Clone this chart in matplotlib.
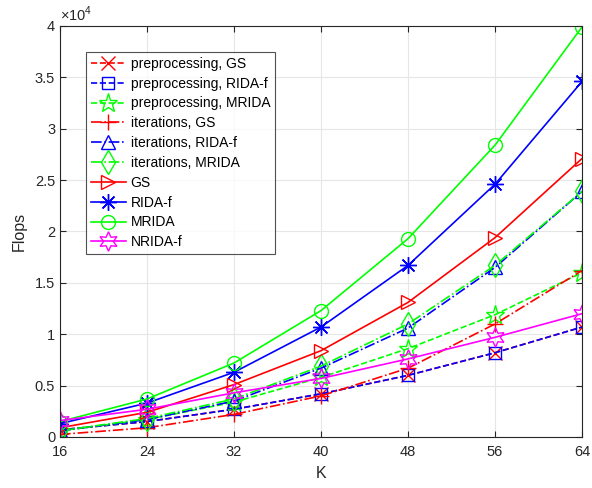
import matplotlib
matplotlib.use("Agg")
import matplotlib.pyplot as plt
from matplotlib.ticker import FuncFormatter

plt.rcParams['font.family'] = ['Liberation Sans', 'DejaVu Sans']
plt.rcParams['mathtext.fontset'] = 'custom'
plt.rcParams['mathtext.rm'] = 'Liberation Sans'

K = [16, 24, 32, 40, 48, 56, 64]

pre_GS = [700, 1500, 2700, 4200, 6000, 8200, 10700]
pre_RIDA = [700, 1500, 2700, 4200, 6000, 8200, 10700]
pre_MRIDA = [600, 1700, 3400, 5800, 8600, 11900, 16000]
it_GS = [250, 900, 2200, 4000, 6700, 11000, 16200]
it_RIDA = [600, 1700, 3500, 6700, 10600, 16500, 23900]
it_MRIDA = [600, 1800, 3700, 6900, 11000, 16700, 23900]
GS = [900, 2400, 5100, 8400, 13100, 19400, 27100]
RIDA_f = [1300, 3300, 6300, 10700, 16700, 24600, 34600]
MRIDA = [1500, 3700, 7200, 12300, 19300, 28400, 39900]
NRIDA_f = [1600, 2700, 4300, 5700, 7600, 9700, 12000]

labels = ['preprocessing, GS', 'preprocessing, RIDA-f', 'preprocessing, MRIDA',
          'iterations, GS', 'iterations, RIDA-f', 'iterations, MRIDA',
          'GS', 'RIDA-f', 'MRIDA', 'NRIDA-f']

fig = plt.figure(figsize=(5.92, 4.88), dpi=100)
ax = fig.add_axes([60/592, 51/488, 522/592, 411/488])

lw = 1.2
ms = 10
star6 = (6, 1, 0)
aster = (8, 2, 0)
G = '#00ff00'
M = '#ff00ff'
series = [
    (pre_GS, 'r', '--', 'x', ms),
    (pre_RIDA, 'b', '--', 's', ms - 1),
    (pre_MRIDA, G, '--', '*', ms + 4),
    (it_GS, 'r', '-.', '+', ms + 2),
    (it_RIDA, 'b', '-.', '^', ms),
    (it_MRIDA, G, '-.', 'd', ms + 2),
    (GS, 'r', '-', '>', ms),
    (RIDA_f, 'b', '-', aster, ms + 2),
    (MRIDA, G, '-', 'o', ms),
    (NRIDA_f, M, '-', star6, ms + 4),
]
for (vals, c, ls, mk, s), lab in zip(series, labels):
    ax.plot(K, vals, color=c, linestyle=ls, marker=mk, markersize=s,
            markerfacecolor='none', markeredgecolor=c, markeredgewidth=1.0,
            linewidth=lw, label=lab)

ax.set_xlim(16, 64)
ax.set_ylim(0, 40000)
ax.set_xticks(K)
ax.set_yticks([0, 5000, 10000, 15000, 20000, 25000, 30000, 35000, 40000])
ax.yaxis.set_major_formatter(FuncFormatter(lambda v, p: '%g' % (v / 1e4)))
ax.text(0.0, 1.005, r'$\times10^{4}$', transform=ax.transAxes, ha='left',
        va='bottom', fontsize=10.5, color='#262626')

ax.grid(True, color='#e6e6e6', linewidth=0.8)
ax.set_axisbelow(True)
ax.tick_params(direction='in', top=True, right=True, labelsize=10.5, length=4,
               color='#262626', labelcolor='#262626')
ax.tick_params(axis='x', pad=6)
for sp in ax.spines.values():
    sp.set_color('#262626')
    sp.set_linewidth(0.8)

ax.set_xlabel('K', fontsize=11.5, color='#262626', labelpad=5)
ax.set_ylabel('Flops', fontsize=11.5, color='#262626', labelpad=6)

leg = ax.legend(loc='upper left', bbox_to_anchor=(0.05, 0.937), fontsize=10,
                frameon=True, fancybox=False, edgecolor='#262626',
                handlelength=2.5, borderpad=0.35, labelspacing=0.42,
                handletextpad=0.35, borderaxespad=0)
leg.get_frame().set_linewidth(0.8)

fig.savefig('out.png', dpi=100)
